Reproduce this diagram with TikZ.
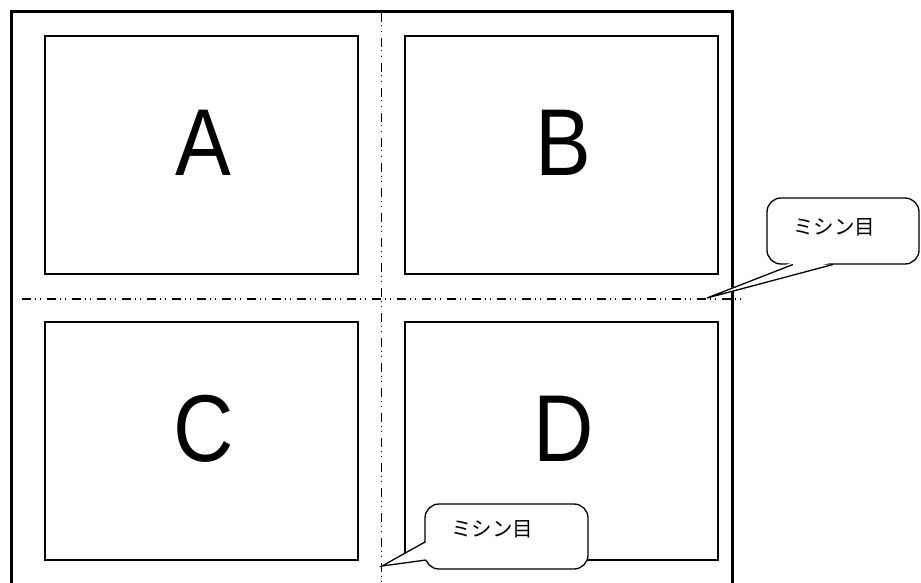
\documentclass[tikz,border=0pt]{standalone}
\usepackage{fontspec}
\setmainfont{Liberation Sans}
\newfontfamily\jpfont{Noto Sans CJK JP}
\begin{document}
\begin{tikzpicture}[x=1pt,y=-1pt,
  panel/.style={draw, line width=1.5pt},
  cutline/.style={draw, line width=1.1pt, dash pattern=on 9pt off 3.5pt on 1pt off 4.5pt on 1pt off 6pt},
  bubble/.style={draw, line width=1.3pt, fill=white, rounded corners=14pt},
  bigletter/.style={font=\fontsize{95}{95}\selectfont, inner sep=0pt, xscale=0.88},
  jp/.style={font=\jpfont\fontsize{20.5}{20.5}\selectfont}]
\useasboundingbox (0,0) rectangle (921,583);
% outer frame
\draw[line width=3pt] (11,590) -- (11,12) -- (732,12) -- (732,590);
% panels
\node[panel, minimum width=313pt, minimum height=238pt, inner sep=0pt] (A) at (201.5,155) {};
\node[panel, minimum width=313pt, minimum height=238pt, inner sep=0pt] (B) at (561.5,155) {};
\node[panel, minimum width=313pt, minimum height=238pt, inner sep=0pt] (C) at (201.5,441) {};
\node[panel, minimum width=313pt, minimum height=238pt, inner sep=0pt] (D) at (561.5,441) {};
\node[bigletter] (tA) at ([shift={(2,-12)}]A.center) {A};
\node[bigletter] (tB) at ([shift={(2,-12)}]B.center) {B};
\node[bigletter] (tC) at ([shift={(2,-12)}]C.center) {C};
\node[bigletter] (tD) at ([shift={(2,-12)}]D.center) {D};
% perforation lines
\coordinate (vt) at (381.5,13);
\coordinate (vb) at (381.5,583);
\coordinate (hl) at (22,299);
\coordinate (hr) at (742,299);
\draw[cutline] (vt) -- (vb);
\draw[cutline] (hl) -- (hr);
% callout 1
\coordinate (tip1) at (707,298);
\draw[bubble] (767,198) rectangle (919,264);
\fill[white] (793,262) -- (833,262) -- (tip1) -- cycle;
\draw[line width=1.3pt] (793,264.5) -- (tip1) -- (833,264.5);
\node[jp] (m1) at (834,227) {ミシン目};
% callout 2
\coordinate (tip2) at (382,566);
\draw[bubble] (425,504) rectangle (588,569);
\fill[white] (427,542) -- (427,560) -- (tip2) -- cycle;
\draw[line width=1.3pt] (425,542) -- (tip2) -- (426,560);
\node[jp] (m2) at (492,529) {ミシン目};
\end{tikzpicture}
\end{document}
